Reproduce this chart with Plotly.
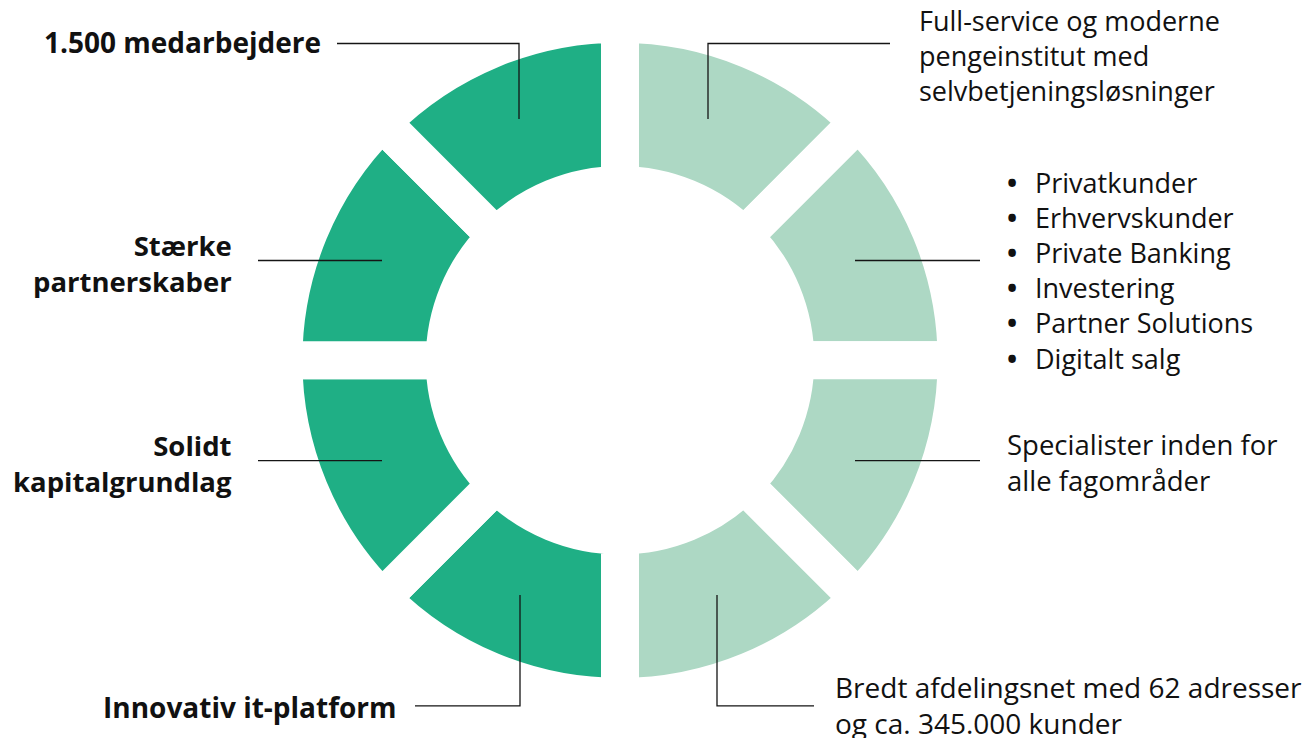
import plotly.graph_objects as go

# ---------------- data ----------------
segment_names = [
    "Full-service", "Forretningsområder", "Specialister", "Afdelingsnet",
    "It-platform", "Kapitalgrundlag", "Partnerskaber", "Medarbejdere",
]
segment_values = [1, 1, 1, 1, 1, 1, 1, 1]
segment_colors = ["#add8c4", "#add8c4", "#add8c4", "#add8c4",
                  "#1faf85", "#1faf85", "#1faf85", "#1faf85"]

label_full_service = ["Full-service og moderne", "pengeinstitut med", "selvbetjeningsløsninger"]
bullet_items = ["Privatkunder", "Erhvervskunder", "Private Banking",
                "Investering", "Partner Solutions", "Digitalt salg"]
label_specialister = ["Specialister inden for", "alle fagområder"]
label_afdelingsnet = ["Bredt afdelingsnet med 62 adresser", "og ca. 345.000 kunder"]
label_medarbejdere = ["1.500 medarbejdere"]
label_partnerskaber = ["Stærke", "partnerskaber"]
label_kapital = ["Solidt", "kapitalgrundlag"]
label_it = ["Innovativ it-platform"]

# ---------------- layout constants (window pixels) ----------------
WIN_W, WIN_H = 1314, 738
OFF = 8                      # page body margin
W, H = WIN_W - OFF, WIN_H - OFF
CX, CY = 620, 360.3
R_OUT_VIS, R_IN_VIS, GAP = 317.6, 194.3, 38
R = R_OUT_VIS + GAP / 2
HOLE = (R_IN_VIS - GAP / 2) / R

FONT = "Open Sans"
SIZE = 27.5
LINE_COLOR = "#151515"
TEXT_COLOR = "#111111"

fig = go.Figure()
fig.add_trace(go.Pie(
    labels=segment_names, values=segment_values, sort=False,
    direction="clockwise", rotation=0, hole=HOLE,
    marker=dict(colors=segment_colors, line=dict(color="white", width=GAP)),
    textinfo="none", hoverinfo="skip", showlegend=False,
    domain=dict(x=[(CX - OFF - R) / W, (CX - OFF + R) / W],
                y=[1 - (CY - OFF + R) / H, 1 - (CY - OFF - R) / H]),
))

annotations = []


def add_block(lines, x, baseline0, anchor, bold, size=SIZE):
    n = len(lines)
    txt = "<br>".join(f"<b>{t}</b>" if bold else t for t in lines)
    annotations.append(dict(
        x=x, y=baseline0 - 0.37 * size + (n - 1) * 0.65 * size,
        xref="x", yref="y", text=txt, showarrow=False,
        xanchor=anchor, yanchor="middle", align=anchor,
        font=dict(family=FONT, size=size, color=TEXT_COLOR), borderpad=0,
    ))


# left (bold, right aligned)
add_block(label_medarbejdere, 322, 52, "right", True, 28)
add_block(label_partnerskaber, 233, 256, "right", True)
add_block(label_kapital, 233, 456, "right", True)
add_block(label_it, 398, 717, "right", True, 28)

# right (regular, left aligned)
add_block(label_full_service, 918, 30, "left", False, 27)
add_block(bullet_items, 1034, 192.7, "left", False, 27)
add_block(["•"] * len(bullet_items), 1006, 192.7, "left", True, 27)
add_block(label_specialister, 1006, 455, "left", False)
add_block(label_afdelingsnet, 834, 697, "left", False, 28)

# connector lines
connectors = [
    [(337, 43.5), (519, 43.5), (519, 119)],
    [(258, 260.5), (382, 260.5)],
    [(258, 460.7), (382, 460.7)],
    [(415, 705.8), (520, 705.8), (520, 595)],
    [(708, 119), (708, 43.5), (890, 43.5)],
    [(855, 260.5), (980, 260.5)],
    [(855, 460.7), (980, 460.7)],
    [(717, 595), (717, 705.8), (814, 705.8)],
]
shapes = []
for pts in connectors:
    path = "M " + " L ".join(f"{x},{y}" for x, y in pts)
    shapes.append(dict(type="path", path=path, xref="x", yref="y",
                       line=dict(color=LINE_COLOR, width=1.3), layer="above"))

fig.update_layout(
    width=W, height=H, margin=dict(l=0, r=0, t=0, b=0),
    paper_bgcolor="white", plot_bgcolor="white",
    xaxis=dict(range=[OFF, WIN_W], visible=False, fixedrange=True),
    yaxis=dict(range=[WIN_H, OFF], visible=False, fixedrange=True),
    annotations=annotations, shapes=shapes,
)

fig.write_html("out.html")
